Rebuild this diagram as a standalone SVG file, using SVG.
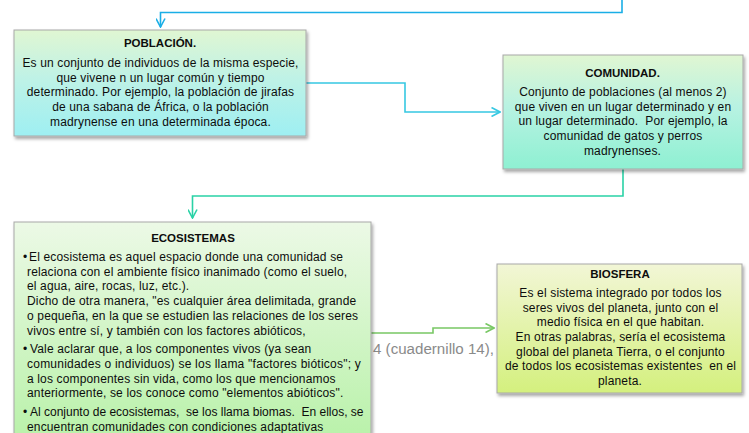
<svg xmlns="http://www.w3.org/2000/svg" width="749" height="433" viewBox="0 0 749 433">
<style>
.box{stroke:#a8a8a8;stroke-width:1;filter:url(#sh)}
.t{font-family:"Liberation Sans",Arial,sans-serif;font-size:12px;fill:#0d0d0d;letter-spacing:0.15px;white-space:pre}
.b{font-weight:bold;font-size:11.5px;letter-spacing:0}
.c{text-anchor:middle}
.n0{letter-spacing:0}
.w{letter-spacing:0.23px}
.con{fill:none;stroke-width:1.6}
.note{font-family:"Liberation Sans",Arial,sans-serif;font-size:14px;fill:#8a8a8a}
</style>
<defs>
<filter id="sh" x="-10%" y="-10%" width="120%" height="130%">
<feDropShadow dx="1.5" dy="2.5" stdDeviation="1.5" flood-color="#000" flood-opacity="0.35"/>
</filter>
<linearGradient id="gP" x1="0" y1="0" x2="0" y2="1">
<stop offset="0" stop-color="#e0f6d2"/><stop offset="0.45" stop-color="#bff2e6"/><stop offset="1" stop-color="#9eeff2"/>
</linearGradient>
<linearGradient id="gC" x1="0" y1="0" x2="0" y2="1">
<stop offset="0" stop-color="#e0f6d2"/><stop offset="0.45" stop-color="#b8f2e2"/><stop offset="1" stop-color="#8ef0d2"/>
</linearGradient>
<linearGradient id="gE" x1="0" y1="0" x2="0" y2="1">
<stop offset="0" stop-color="#ecf9e6"/><stop offset="1" stop-color="#b6f1a6"/>
</linearGradient>
<linearGradient id="gB" x1="0" y1="0" x2="0" y2="1">
<stop offset="0" stop-color="#f2f6d6"/><stop offset="1" stop-color="#d4f07e"/>
</linearGradient>
<marker id="a1" viewBox="0 0 10 10" refX="9.5" refY="5" markerWidth="10" markerHeight="10" markerUnits="userSpaceOnUse" orient="auto"><path d="M1,0.5 L9.5,5 L1,9.5" fill="none" stroke="#1aaee6" stroke-width="1.6"/></marker>
<marker id="a2" viewBox="0 0 10 10" refX="9.5" refY="5" markerWidth="10" markerHeight="10" markerUnits="userSpaceOnUse" orient="auto"><path d="M1,0.5 L9.5,5 L1,9.5" fill="none" stroke="#36c8e2" stroke-width="1.6"/></marker>
<marker id="a3" viewBox="0 0 10 10" refX="9.5" refY="5" markerWidth="10" markerHeight="10" markerUnits="userSpaceOnUse" orient="auto"><path d="M1,0.5 L9.5,5 L1,9.5" fill="none" stroke="#2ad2a6" stroke-width="1.6"/></marker>
<marker id="a4" viewBox="0 0 10 10" refX="9.5" refY="5" markerWidth="10" markerHeight="10" markerUnits="userSpaceOnUse" orient="auto"><path d="M1,0.5 L9.5,5 L1,9.5" fill="none" stroke="#78c864" stroke-width="1.6"/></marker>
</defs>
<rect width="749" height="433" fill="#ffffff"/>

<g id="connectors">
<path class="con" stroke="#1aaee6" d="M622,0 V12.5 H160.5 V27" marker-end="url(#a1)"/>
<path class="con" stroke="#36c8e2" d="M306,83 H405 V112 H500" marker-end="url(#a2)"/>
<path class="con" stroke="#2ad2a6" d="M623,169 V196 H192.5 V218" marker-end="url(#a3)"/>
<path class="con" stroke="#78c864" d="M371,333 H433 V328 H494" marker-end="url(#a4)"/>
</g>

<text class="note" x="373" y="354" textLength="121" lengthAdjust="spacingAndGlyphs">4 (cuadernillo 14),</text>

<g id="poblacion">
<rect class="box" x="14" y="30" width="292" height="106" fill="url(#gP)"/>
<text class="t b c" x="160" y="47">POBLACIÓN.</text>
<text class="t c" x="160.5" y="67">Es un conjunto de individuos de la misma especie,</text>
<text class="t c" x="160.5" y="81.7">que vivene n un lugar común y tiempo</text>
<text class="t c" x="160.5" y="96.4">determinado. Por ejemplo, la población de jirafas</text>
<text class="t c" x="160.5" y="111.1">de una sabana de África, o la población</text>
<text class="t c" x="160.5" y="125.8">madrynense en una determinada época.</text>
</g>

<g id="comunidad">
<rect class="box" x="503" y="55" width="240" height="114" fill="url(#gC)"/>
<text class="t b c" x="622.5" y="77">COMUNIDAD.</text>
<text class="t c" x="623" y="96">Conjunto de poblaciones (al menos 2)</text>
<text class="t c" x="623" y="110.7">que viven en un lugar determinado y en</text>
<text class="t c" x="623" y="125.4">un lugar determinado.  Por ejemplo, la</text>
<text class="t c" x="623" y="140.1">comunidad de gatos y perros</text>
<text class="t c" x="622.5" y="154.8">madrynenses.</text>
</g>

<g id="ecosistemas">
<rect class="box" x="14" y="222" width="357" height="230" fill="url(#gE)"/>
<text class="t b c" x="193" y="242">ECOSISTEMAS</text>
<text class="t" x="23" y="261">•</text>
<text class="t" x="29" y="261">El ecosistema es aquel espacio donde una comunidad se</text>
<text class="t" x="27" y="275.7">relaciona con el ambiente físico inanimado (como el suelo,</text>
<text class="t" x="27" y="290.4">el agua, aire, rocas, luz, etc.).</text>
<text class="t" x="27" y="305.1">Dicho de otra manera, "es cualquier área delimitada, grande</text>
<text class="t" x="27" y="319.8">o pequeña, en la que se estudien las relaciones de los seres</text>
<text class="t" x="27" y="334.5">vivos entre sí, y también con los factores abióticos,</text>
<text class="t" x="23" y="353.2">•</text>
<text class="t" x="30" y="353.2">Vale aclarar que, a los componentes vivos (ya sean</text>
<text class="t w" x="27" y="367.9">comunidades o individuos) se los llama "factores bióticos"; y</text>
<text class="t" x="27" y="382.6">a los componentes sin vida, como los que mencionamos</text>
<text class="t" x="27" y="397.3">anteriormente, se los conoce como "elementos abióticos".</text>
<text class="t" x="23" y="416">•</text>
<text class="t n0" x="30" y="416">Al conjunto de ecosistemas,  se los llama biomas.  En ellos, se</text>
<text class="t" x="27" y="430.7">encuentran comunidades con condiciones adaptativas</text>
</g>

<g id="biosfera">
<rect class="box" x="497" y="264" width="245" height="129" fill="url(#gB)"/>
<text class="t b c" x="620" y="278">BIOSFERA</text>
<text class="t c" x="620.5" y="297">Es el sistema integrado por todos los</text>
<text class="t c" x="620.5" y="311.7">seres vivos del planeta, junto con el</text>
<text class="t c" x="620.5" y="326.3">medio física en el que habitan.</text>
<text class="t c" x="620.5" y="341">En otras palabras, sería el ecosistema</text>
<text class="t c" x="620.5" y="355.7">global del planeta Tierra, o el conjunto</text>
<text class="t c" x="620.5" y="370.3">de todos los ecosistemas existentes  en el</text>
<text class="t c" x="620" y="385">planeta.</text>
</g>
</svg>
